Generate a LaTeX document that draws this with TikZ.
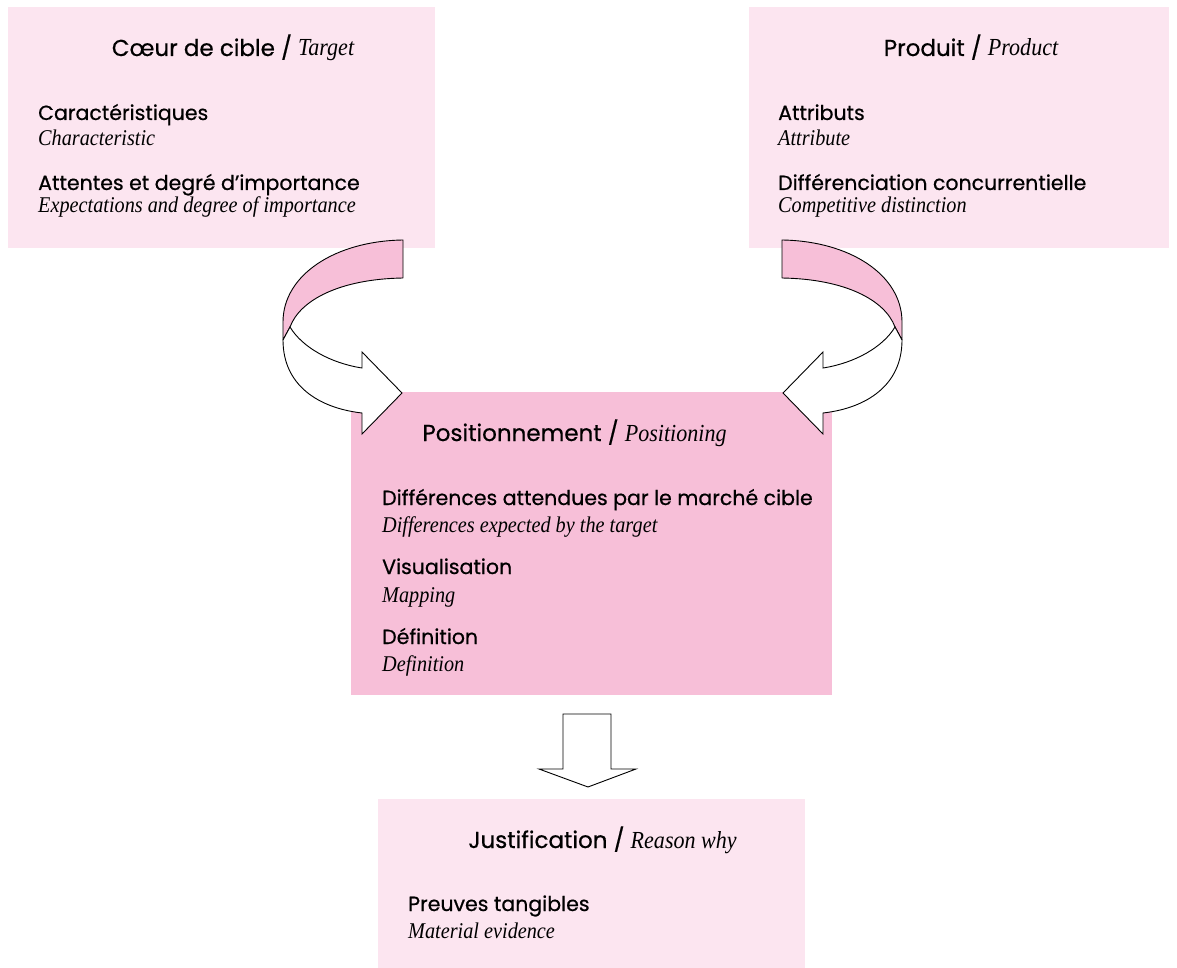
\documentclass[tikz,border=0pt]{standalone}
\usepackage{fontspec}
\newfontfamily\hfont{Poppins}[FakeBold=0.6]
\newfontfamily\itfont{Liberation Serif}[FakeStretch=0.9]
\definecolor{lightpink}{HTML}{FCE5F0}
\definecolor{midpink}{HTML}{F7BFD8}
\tikzset{
  box/.style={inner sep=0pt, outer sep=0pt, anchor=north west, draw=none},
  head/.style={inner sep=0pt, anchor=base, font=\hfont\fontsize{23}{26}\selectfont},
  lbl/.style={inner sep=0pt, anchor=base west, font=\hfont\fontsize{20.5}{24}\selectfont},
  sub/.style={inner sep=0pt, anchor=base west, font=\itfont\itshape\fontsize{22.5}{25}\selectfont},
  ribbon/.style={fill=midpink, draw=black, line width=0.9pt, line join=round},
  whitearrow/.style={fill=white, draw=black, line width=0.9pt, line join=miter},
  mirrored/.style={shift={(1185,0)}, xscale=-1},
}
\newcommand{\hit}[1]{{\itfont\itshape\fontsize{24.5}{26}\selectfont #1}}
\newcommand{\curvedarrow}{%
    \draw[ribbon] (403,240) .. controls (335,241) and (283,275) .. (283,322)
      -- (283,340) -- (290,327)
      .. controls (300,300) and (340,279) .. (403,278) -- cycle;
    \draw[whitearrow] (290,327) .. controls (302,347) and (330,363) .. (362,368)
      -- (362,352) -- (402,393) -- (362,434) -- (362,413)
      .. controls (318,408) and (283,385) .. (283,340) -- cycle;
}
\begin{document}
\begin{tikzpicture}[x=1pt, y=-1pt]
\useasboundingbox (0,0) rectangle (1177,968);
% boxes
\node (target) [box, fill=lightpink, minimum width=427pt, minimum height=241pt] at (8,7) {};
\node (product) [box, fill=lightpink, minimum width=420pt, minimum height=241pt] at (749,7) {};
\node (posit) [box, fill=midpink, minimum width=481pt, minimum height=303pt] at (351,392) {};
\node (reason) [box, fill=lightpink, minimum width=427pt, minimum height=169pt] at (378,799) {};

% texts target
\node (t0) [head] at (233,56) {Cœur de cible / \hit{Target}};
\node (t1) [lbl] at (38,120) {Caractéristiques};
\node (t2) [sub] at (38,146) {Characteristic};
\node (t3) [lbl] at (38,190) {Attentes et degré d’importance};
\node (t4) [sub] at (38,213) {Expectations and degree of importance};
% product
\node (p0) [head] at (971,56) {Produit / \hit{Product}};
\node (p1) [lbl] at (778,120) {Attributs};
\node (p2) [sub] at (778,146) {Attribute};
\node (p3) [lbl] at (778,190) {Différenciation concurrentielle};
\node (p4) [sub] at (778,213) {Competitive distinction};
% positioning
\node (c0) [head] at (574.5,441) {Positionnement / \hit{Positioning}};
\node (c1) [lbl] at (382,505) {Différences attendues par le marché cible};
\node (c2) [sub] at (382,532) {Differences expected by the target};
\node (c3) [lbl] at (382,574) {Visualisation};
\node (c4) [sub] at (382,602) {Mapping};
\node (c5) [lbl] at (382,644) {Définition};
\node (c6) [sub] at (382,671) {Definition};
% reason why
\node (r0) [head] at (602.5,848) {Justification / \hit{Reason why}};
\node (r1) [lbl] at (408,911) {Preuves tangibles};
\node (r2) [sub] at (408,938) {Material evidence};

% curved arrows
\begin{scope}
  \curvedarrow
\end{scope}
\begin{scope}[mirrored]
  \curvedarrow
\end{scope}
% down arrow
\draw[whitearrow] (563,714) -- (611,714) -- (611,769) -- (636,769) -- (588,787)
  -- (539,769) -- (563,769) -- cycle;
\end{tikzpicture}
\end{document}
